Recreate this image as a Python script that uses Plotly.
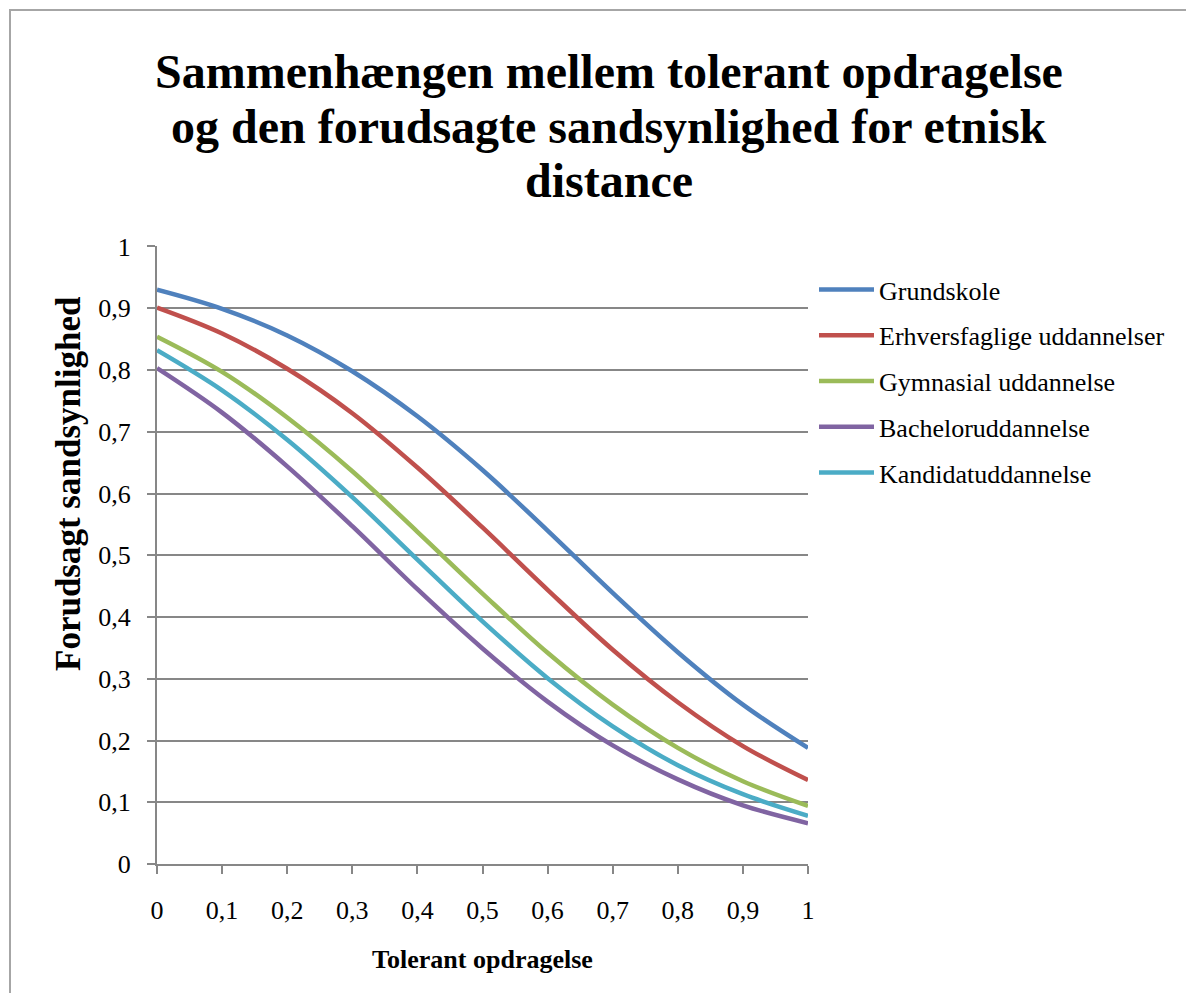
import plotly.graph_objects as go

x_vals = [0, 0.1, 0.2, 0.3, 0.4, 0.5, 0.6, 0.7, 0.8, 0.9, 1.0]

grundskole = [0.930, 0.899, 0.856, 0.798, 0.725, 0.638, 0.540, 0.439, 0.343, 0.258, 0.188]
erhvervsfaglige = [0.901, 0.859, 0.802, 0.730, 0.642, 0.545, 0.444, 0.347, 0.262, 0.191, 0.136]
gymnasial = [0.854, 0.797, 0.723, 0.636, 0.538, 0.438, 0.342, 0.258, 0.188, 0.134, 0.094]
bachelor = [0.803, 0.731, 0.644, 0.547, 0.445, 0.349, 0.263, 0.192, 0.137, 0.095, 0.066]
kandidat = [0.832, 0.767, 0.687, 0.594, 0.493, 0.393, 0.301, 0.223, 0.160, 0.113, 0.078]

series_names = ["Grundskole", "Erhversfaglige uddannelser", "Gymnasial uddannelse",
                "Bacheloruddannelse", "Kandidatuddannelse"]
series_values = [grundskole, erhvervsfaglige, gymnasial, bachelor, kandidat]
colors = ["#4F81BD", "#C0504D", "#9BBB59", "#8064A2", "#4BACC6"]

x_ticks = [0, 0.1, 0.2, 0.3, 0.4, 0.5, 0.6, 0.7, 0.8, 0.9, 1]
y_ticks = [0, 0.1, 0.2, 0.3, 0.4, 0.5, 0.6, 0.7, 0.8, 0.9, 1]

title_lines = ["Sammenhængen mellem tolerant opdragelse",
               "og den forudsagte sandsynlighed for etnisk",
               "distance"]
x_title = "Tolerant opdragelse"
y_title = "Forudsagt sandsynlighed"

FONT = "Liberation Serif, Times New Roman, serif"
GRID = "#878787"

# plot area geometry in screen pixels (page has an 8px body margin)
PL, PR, PT, PB = 157, 808, 246, 864
PW, PH = PR - PL, PB - PT


def px_x(X):
    return (X - PL) / PW


def px_y(Y):
    return (PB - Y) / PH


fig = go.Figure()
for i, (name, vals, col) in enumerate(zip(series_names, series_values, colors)):
    fig.add_trace(go.Scatter(
        x=x_vals, y=vals, name=name, mode="lines",
        line=dict(color=col, width=4.5, shape="spline", smoothing=1.0),
        legendgroup=f"g{i}",
    ))

fig.update_layout(
    width=1194, height=993,
    margin=dict(l=PL - 8, r=1194 - PW - (PL - 8), t=PT - 8, b=993 - PH - (PT - 8)),
    paper_bgcolor="white", plot_bgcolor="white",
    separators=", ",
    font=dict(family=FONT, color="black", size=26),
    showlegend=True,
    legend=dict(
        x=px_x(814), xanchor="left", y=px_y(266), yanchor="top",
        font=dict(family=FONT, size=26, color="black"),
        tracegroupgap=9, itemwidth=55,
        bgcolor="rgba(0,0,0,0)",
    ),
    xaxis=dict(
        range=[0, 1], tickvals=x_ticks, tickformat=".1~f",
        showgrid=False, zeroline=False,
        showline=True, linecolor=GRID, linewidth=2,
        ticks="outside", ticklen=8, tickcolor=GRID, tickwidth=1.5,
        ticklabelstandoff=14,
        tickfont=dict(family=FONT, size=26, color="black"),
        title=dict(text=f"<b>{x_title}</b>", standoff=26,
                   font=dict(family=FONT, size=26, color="black")),
        fixedrange=True,
    ),
    yaxis=dict(
        range=[0, 1.0008], tickvals=y_ticks, tickformat=".1~f",
        showgrid=True, gridcolor=GRID, gridwidth=1.5,
        zeroline=False,
        showline=True, linecolor=GRID, linewidth=2,
        ticks="outside", ticklen=8, tickcolor=GRID, tickwidth=1.5,
        ticklabelstandoff=11,
        tickfont=dict(family=FONT, size=26, color="black"),
        fixedrange=True,
    ),
)

# y-axis title placed like the original (above the plot-area centre)
fig.add_annotation(
    text=f"<b>{y_title}</b>", xref="paper", yref="paper",
    x=px_x(68), y=px_y(484), xanchor="center", yanchor="middle",
    textangle=-90, showarrow=False,
    font=dict(family=FONT, size=35, color="black"),
)

# chart title, one annotation per line to match the original line spacing
for line, yc in zip(title_lines, [71, 126, 180]):
    fig.add_annotation(
        text=f"<b>{line}</b>", xref="paper", yref="paper",
        x=px_x(609), y=px_y(yc), xanchor="center", yanchor="middle",
        showarrow=False, font=dict(family=FONT, size=48, color="black"),
    )

# outer chart border (Excel chart area frame)
fig.add_shape(
    type="rect", xref="paper", yref="paper",
    x0=px_x(10), x1=px_x(1215), y0=px_y(1015), y1=px_y(10),
    line=dict(color="#A6A6A6", width=2), fillcolor="rgba(0,0,0,0)", layer="below",
)

fig.write_html("out.html")
